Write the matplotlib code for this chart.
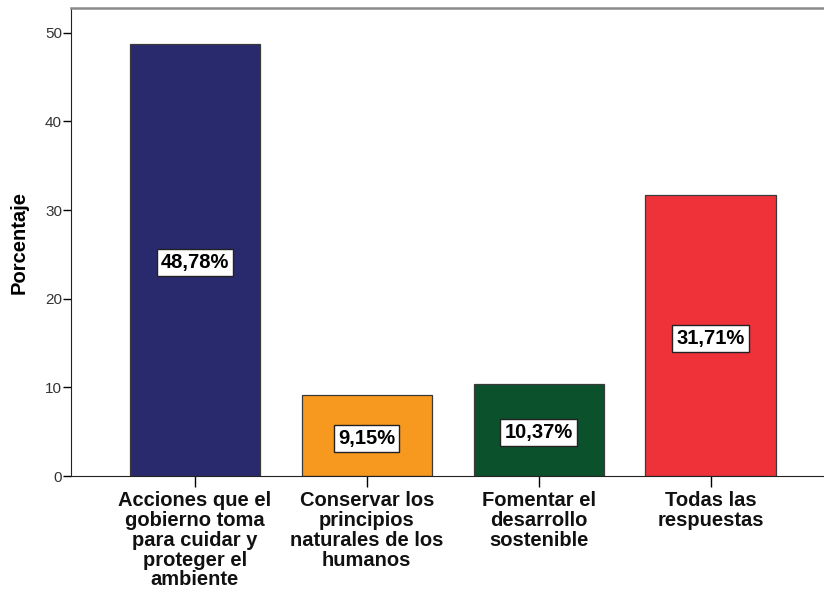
import numpy as np
import matplotlib.pyplot as plt

plt.rcParams['font.family'] = ['Liberation Sans', 'DejaVu Sans']

categories = [
    "Acciones que el\ngobierno toma\npara cuidar y\nproteger el\nambiente",
    "Conservar los\nprincipios\nnaturales de los\nhumanos",
    "Fomentar el\ndesarrollo\nsostenible",
    "Todas las\nrespuestas",
]
percentages = [48.78, 9.15, 10.37, 31.71]
bar_labels = ["48,78%", "9,15%", "10,37%", "31,71%"]
colors = ["#292A6E", "#F7991E", "#0B522C", "#EF323A"]
y_ticks = [0, 10, 20, 30, 40, 50]

fig = plt.figure(figsize=(8.24, 5.92), dpi=100)
ax = fig.add_axes((71 / 824, 116 / 592, 1 - 71 / 824, 468 / 592))

x = np.arange(len(categories))
ax.bar(x, percentages, width=0.757, color=colors, edgecolor="#3a3a3a", linewidth=0.9, zorder=2)

for xi, val, lab in zip(x, percentages, bar_labels):
    ax.text(xi, val / 2 - 0.3, lab, ha="center", va="center", fontsize=14.5, fontweight="bold",
            color="black", zorder=3,
            bbox=dict(boxstyle="square,pad=0.2", facecolor="white", edgecolor="#222222", linewidth=1))

ax.set_xlim(-0.72, 3.66)
ax.set_ylim(0, 52.8)
ax.set_yticks(y_ticks)
ax.set_yticklabels([str(t) for t in y_ticks], fontsize=11, color="#333333")
ax.set_xticks(x)
ax.set_xticklabels(categories, fontsize=14.5, fontweight="bold", color="#111111", linespacing=1.05)

ax.tick_params(axis="y", direction="out", length=5.5, width=1, pad=1)
ax.tick_params(axis="x", direction="out", length=8, width=1, pad=3)

ax.set_ylabel("Porcentaje", fontsize=14.5, fontweight="bold", labelpad=12)

ax.spines["right"].set_visible(False)
ax.spines["top"].set_color("#8a8a8a")
ax.spines["top"].set_linewidth(1.8)
ax.spines["left"].set_color("#222222")
ax.spines["bottom"].set_color("#222222")

fig.savefig("out.png", dpi=100)
